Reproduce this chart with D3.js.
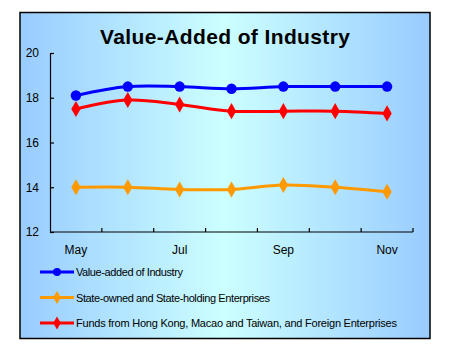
<!DOCTYPE html>
<html>
<head>
<meta charset="utf-8">
<script src="https://cdn.jsdelivr.net/npm/d3@7"></script>
<style>
  html, body { margin: 0; padding: 0; background: #fff; }
  svg { display: block; font-family: Arial, "Liberation Sans", sans-serif; }
</style>
</head>
<body>
<svg id="chart" width="450" height="350"></svg>
<script>
const months = ["May", "Jun", "Jul", "Aug", "Sep", "Oct", "Nov"];
const tickLabels = ["May", "", "Jul", "", "Sep", "", "Nov"];
const yTicks = [12, 14, 16, 18, 20];
const valueAdded = [18.1, 18.5, 18.5, 18.4, 18.5, 18.5, 18.5];
const stateOwned = [14.0, 14.0, 13.9, 13.9, 14.1, 14.0, 13.8];
const foreignFunds = [17.5, 17.9, 17.7, 17.4, 17.4, 17.4, 17.3];
const seriesNames = [
  "Value-added of Industry",
  "State-owned and State-holding Enterprises",
  "Funds from Hong Kong, Macao and Taiwan, and Foreign Enterprises"
];
const seriesColors = ["#0000FF", "#FF9900", "#FF0000"];
const seriesMarkers = ["circle", "diamond", "diamond"];

const svg = d3.select("#chart");
const defs = svg.append("defs");
const grad = defs.append("linearGradient").attr("id", "bg").attr("x1", "0%").attr("x2", "100%").attr("y1", "0%").attr("y2", "0%");
grad.append("stop").attr("offset", "0%").attr("stop-color", "#99CCFF");
grad.append("stop").attr("offset", "50%").attr("stop-color", "#CCFFFF");
grad.append("stop").attr("offset", "100%").attr("stop-color", "#99CCFF");

svg.append("rect").attr("x", 20).attr("y", 12.5).attr("width", 410).attr("height", 326)
  .attr("fill", "url(#bg)").attr("stroke", "#000").attr("stroke-width", 1.5);

svg.append("text").attr("x", 225).attr("y", 44).attr("text-anchor", "middle")
  .attr("font-size", 21).attr("font-weight", "bold").attr("fill", "#000")
  .attr("textLength", 250).attr("lengthAdjust", "spacing")
  .text("Value-Added of Industry");

const pLeft = 50, pRight = 413, pTop = 53, pBottom = 232;
const x = d3.scaleBand().domain(months).range([pLeft, pRight]).padding(0);
const y = d3.scaleLinear().domain([12, 20]).range([pBottom, pTop]);

// Y axis
const yAxis = svg.append("g").attr("transform", `translate(${pLeft},0)`)
  .call(d3.axisLeft(y).tickValues(yTicks).tickSizeInner(-4).tickSizeOuter(0).tickPadding(11));
yAxis.select(".domain").attr("stroke", "#000").attr("stroke-width", 1.2);
yAxis.selectAll(".tick line").attr("stroke", "#000").attr("stroke-width", 1.2);
yAxis.selectAll("text").attr("font-size", 12).attr("fill", "#000").attr("font-weight", "normal")
  .attr("font-family", "Arial, 'Liberation Sans', sans-serif");

// X axis
const xAxisG = svg.append("g").attr("transform", `translate(0,${pBottom})`);
xAxisG.append("line").attr("x1", pLeft).attr("x2", pRight).attr("y1", 0).attr("y2", 0).attr("stroke", "#000").attr("stroke-width", 1.2);
const boundaries = months.map(m => x(m)).concat([x(months[months.length - 1]) + x.bandwidth()]);
xAxisG.selectAll("line.tk").data(boundaries.slice(1)).enter().append("line").attr("class", "tk")
  .attr("x1", d => d).attr("x2", d => d).attr("y1", 0).attr("y2", -4).attr("stroke", "#000").attr("stroke-width", 1.2);
xAxisG.selectAll("text").data(months).enter().append("text")
  .attr("x", d => x(d) + x.bandwidth() / 2).attr("y", 22).attr("text-anchor", "middle")
  .attr("font-size", 12).attr("font-weight", "normal").attr("fill", "#000")
  .text((d, i) => tickLabels[i]);

const allSeries = [valueAdded, stateOwned, foreignFunds];
const line = d3.line().x((d, i) => x(months[i]) + x.bandwidth() / 2).y(d => y(d)).curve(d3.curveCatmullRom.alpha(0.5));
const diamond = d3.symbol().type(d3.symbolDiamond).size(75);
const circle = d3.symbol().type(d3.symbolCircle).size(85);

allSeries.forEach((vals, s) => {
  svg.append("path").datum(vals).attr("d", line).attr("fill", "none")
    .attr("stroke", seriesColors[s]).attr("stroke-width", 3);
  svg.selectAll(null).data(vals).enter().append("path")
    .attr("transform", (d, i) => `translate(${x(months[i]) + x.bandwidth() / 2},${y(d)})`)
    .attr("d", seriesMarkers[s] === "circle" ? circle : diamond)
    .attr("fill", seriesColors[s]);
});

// Legend
const legendY = [272, 297.5, 323];
const targetW = [107, 194, 321];
seriesNames.forEach((name, s) => {
  const g = svg.append("g").attr("transform", `translate(0,${legendY[s]})`);
  g.append("line").attr("x1", 40).attr("x2", 74).attr("y1", 0).attr("y2", 0)
    .attr("stroke", seriesColors[s]).attr("stroke-width", 3);
  g.append("path").attr("transform", "translate(57,0)")
    .attr("d", d3.symbol().type(seriesMarkers[s] === "circle" ? d3.symbolCircle : d3.symbolDiamond).size(50)())
    .attr("fill", seriesColors[s]);
  g.append("text").attr("x", 76).attr("y", 4).attr("font-size", 11).attr("fill", "#000")
    .attr("textLength", targetW[s]).attr("lengthAdjust", "spacing").text(name);
});
</script>
</body>
</html>
